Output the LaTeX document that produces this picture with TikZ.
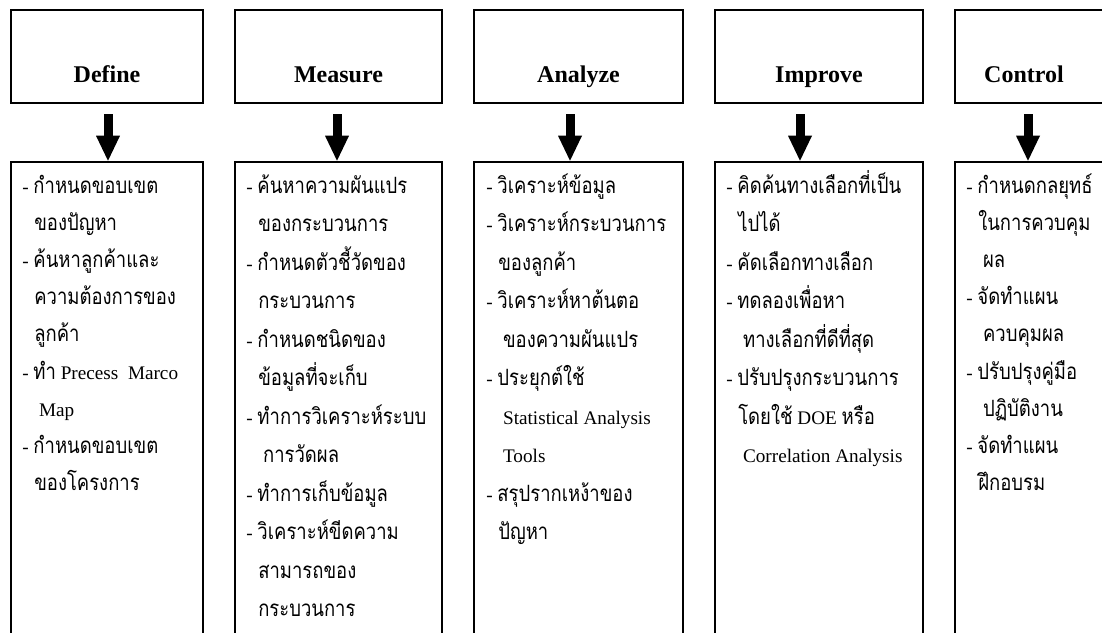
\documentclass[tikz,border=0pt]{standalone}
\usepackage{fontspec}
\setmainfont{Liberation Serif}
\newfontfamily\thaifont[Script=Thai,FakeStretch=0.825]{Loma}
\usetikzlibrary{arrows.meta,calc}
\newcommand\thx[1]{{\thaifont\fontsize{16.8}{20}\selectfont #1}}
\newcommand\boxlines[4]{%
  \foreach \k/\t [count=\i] in {#4} {%
    \node[txtline] (#1-\i) at ({#2+11+12*\k},{193+(\i-1)*#3}) {\t};}}
\tikzset{
  boxline/.style={draw, line width=1.9pt, inner sep=0pt},
  topbox/.style={boxline, minimum height=69.75pt, minimum width=#1},
  botbox/.style={boxline, minimum height=403.5pt, minimum width=#1},
  title/.style={anchor=base, inner sep=0pt, font=\fontsize{18}{21}\selectfont\bfseries},
  txtline/.style={anchor=base west, inner sep=0pt, font=\fontsize{14.4}{17}\selectfont},
  bigarrow/.style={line width=6.75pt, -{Triangle[width=18pt,length=18.75pt,line width=0pt]}}
}
\begin{document}
\begin{tikzpicture}[x=0.75pt,y=-0.75pt]
\useasboundingbox (0,0) rectangle (1102,632);
\clip (0,0) rectangle (1102,632);
\fill[white] (0,0) rectangle (1102,632);
% top boxes
\node[topbox=144pt]    (dT) at (107,56.5) {};
\node[topbox=155.25pt] (mT) at (338.5,56.5) {};
\node[topbox=156.75pt] (aT) at (578.5,56.5) {};
\node[topbox=156pt]    (iT) at (819,56.5) {};
\node[topbox=111.75pt] (cT) at (1029.5,56.5) {};
\node[title] (dTt) at (107,82) {Define};
\node[title] (mTt) at (338.5,82) {Measure};
\node[title] (aTt) at (578.5,82) {Analyze};
\node[title] (iTt) at (819,82) {Improve};
\node[title] (cTt) at (1024,82) {Control};
% bottom boxes
\node[botbox=144pt]    (dB) at (107,431) {};
\node[botbox=155.25pt] (mB) at (338.5,431) {};
\node[botbox=156.75pt] (aB) at (578.5,431) {};
\node[botbox=156pt]    (iB) at (819,431) {};
\node[botbox=111.75pt] (cB) at (1029.5,431) {};
% arrows
\draw[bigarrow] ($(dT.south)+(1,10)$) -- ($(dB.north)+(1,0)$);
\draw[bigarrow] ($(mT.south)+(-1.5,10)$) -- ($(mB.north)+(-1.5,0)$);
\draw[bigarrow] ($(aT.south)+(-8.5,10)$) -- ($(aB.north)+(-8.5,0)$);
\draw[bigarrow] ($(iT.south)+(-19,10)$) -- ($(iB.north)+(-19,0)$);
\draw[bigarrow] ($(cT.south)+(-1.5,10)$) -- ($(cB.north)+(-1.5,0)$);
% texts
\boxlines{d}{11}{37.2}{0/{- \thx{กำหนดขอบเขต}},1/{\thx{ของปัญหา}},0/{- \thx{ค้นหาลูกค้าและ}},1/{\thx{ความต้องการของ}},1/{\thx{ลูกค้า}},0/{- \thx{ทำ} Precess\ \ Marco},1/{\ Map},0/{- \thx{กำหนดขอบเขต}},1/{\thx{ของโครงการ}}}
\boxlines{m}{235}{38.5}{0/{- \thx{ค้นหาความผันแปร}},1/{\thx{ของกระบวนการ}},0/{- \thx{กำหนดตัวชี้วัดของ}},1/{\thx{กระบวนการ}},0/{- \thx{กำหนดชนิดของ}},1/{\thx{ข้อมูลที่จะเก็บ}},0/{- \thx{ทำการวิเคราะห์ระบบ}},1/{\ \thx{การวัดผล}},0/{- \thx{ทำการเก็บข้อมูล}},0/{- \thx{วิเคราะห์ขีดความ}},1/{\thx{สามารถของ}},1/{\thx{กระบวนการ}}}
\boxlines{a}{475}{38.5}{0/{- \thx{วิเคราะห์ข้อมูล}},0/{- \thx{วิเคราะห์กระบวนการ}},1/{\thx{ของลูกค้า}},0/{- \thx{วิเคราะห์หาต้นตอ}},1/{\ \thx{ของความผันแปร}},0/{- \thx{ประยุกต์ใช้}},1/{\ Statistical Analysis},1/{\ Tools},0/{- \thx{สรุปรากเหง้าของ}},1/{\thx{ปัญหา}}}
\boxlines{i}{715}{38.5}{0/{- \thx{คิดค้นทางเลือกที่เป็น}},1/{\thx{ไปได้}},0/{- \thx{คัดเลือกทางเลือก}},0/{- \thx{ทดลองเพื่อหา}},1/{\ \thx{ทางเลือกที่ดีที่สุด}},0/{- \thx{ปรับปรุงกระบวนการ}},1/{\thx{โดยใช้} DOE \thx{หรือ}},1/{\ Correlation Analysis}}
\boxlines{c}{955}{37.2}{0/{- \thx{กำหนดกลยุทธ์}},1/{\thx{ในการควบคุม}},1/{\ \thx{ผล}},0/{- \thx{จัดทำแผน}},1/{\ \thx{ควบคุมผล}},0/{- \thx{ปรับปรุงคู่มือ}},1/{\ \thx{ปฏิบัติงาน}},0/{- \thx{จัดทำแผน}},1/{\thx{ฝึกอบรม}}}
\end{tikzpicture}
\end{document}
